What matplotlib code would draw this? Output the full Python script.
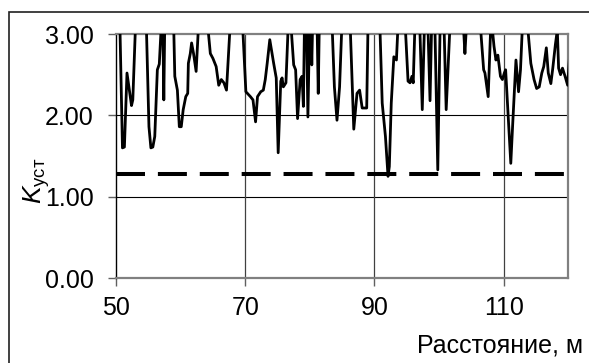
import matplotlib
matplotlib.use("Agg")
import matplotlib.pyplot as plt
from matplotlib.patches import Rectangle

plt.rcParams['font.family'] = ['Liberation Sans', 'DejaVu Sans']
plt.rcParams['mathtext.fontset'] = 'custom'
plt.rcParams['mathtext.rm'] = 'Liberation Sans'
plt.rcParams['mathtext.it'] = 'Liberation Sans:italic'

# расстояние, м
distance = [
    50.5, 51.0, 51.3, 51.7, 52.4, 52.6, 53.2, 54.0, 54.6, 55.1, 55.4, 55.7, 56.0,
    56.4, 56.7, 57.2, 57.4, 57.6, 58.5, 58.9, 59.1, 59.5, 59.8, 60.1, 60.4, 60.8,
    61.1, 61.2, 61.5, 61.7, 62.0, 62.4, 62.9, 63.5, 64.2, 64.6, 65.0, 65.5, 65.9,
    66.3, 66.7, 67.1, 67.8, 68.7, 69.6, 70.1, 70.8, 71.2, 71.6, 71.9, 72.4, 72.8,
    73.1, 73.4, 73.8, 74.4, 74.8, 75.1, 75.5, 75.7, 75.9, 76.3, 76.7, 77.0, 77.5,
    77.8, 78.1, 78.5, 78.8, 79.0, 79.2, 79.45, 79.7, 80.0, 80.15, 80.3, 80.5, 81.1,
    81.3, 81.5, 82.4, 83.4, 83.8, 84.2, 84.6, 85.0, 85.6, 86.2, 86.8, 87.3, 87.7,
    88.1, 88.8, 89.0, 90.0, 90.8, 91.2, 91.7, 92.1, 92.3, 92.6, 93.0, 93.4, 93.7,
    94.2, 94.7, 95.2, 95.5, 95.8, 96.0, 96.3, 96.9, 97.4, 97.8, 98.2, 98.6, 98.9,
    99.3, 99.8, 100.2, 100.7, 101.1, 101.8, 102.9, 103.8, 104.0, 104.2, 105.3,
    106.3, 106.9, 107.1, 107.6, 108.0, 108.2, 108.5, 108.8, 109.1, 109.5, 109.8,
    110.1, 110.3, 110.7, 111.1, 111.4, 111.9, 112.3, 112.6, 112.9, 113.3, 113.7,
    114.2, 114.7, 115.1, 115.5, 115.9, 116.2, 116.6, 116.9, 117.3, 117.6, 118.0,
    118.3, 118.5, 118.8, 119.1, 119.5, 119.9, 120.3,
]
# коэффициент устойчивости
k_ust = [
    3.50, 1.60, 1.61, 2.52, 2.12, 2.19, 3.50, 3.80, 3.40, 1.86, 1.60, 1.61, 1.74,
    2.56, 2.63, 3.40, 2.19, 3.50, 3.60, 3.20, 2.48, 2.31, 1.86, 1.86, 2.07, 2.23,
    2.27, 2.64, 2.76, 2.89, 2.76, 2.54, 3.30, 3.60, 3.10, 2.76, 2.70, 2.60, 2.37,
    2.44, 2.40, 2.31, 3.30, 3.60, 3.10, 2.29, 2.23, 2.19, 1.92, 2.23, 2.29, 2.31,
    2.44, 2.64, 2.93, 2.64, 2.46, 1.54, 2.42, 2.46, 2.35, 2.40, 3.20, 3.20, 2.62,
    2.56, 1.96, 2.44, 2.48, 2.11, 3.30, 3.30, 1.98, 3.30, 3.30, 2.62, 3.40, 3.20,
    2.27, 3.30, 3.60, 3.20, 2.35, 1.94, 2.35, 3.20, 3.60, 3.20, 1.83, 2.27, 2.31,
    2.09, 2.09, 3.10, 3.60, 3.20, 2.15, 1.74, 1.25, 1.37, 2.15, 2.72, 2.68, 3.20,
    3.60, 3.20, 2.42, 2.40, 2.48, 2.40, 3.20, 3.40, 2.07, 3.30, 3.30, 2.18, 3.30,
    3.30, 1.33, 3.30, 3.30, 2.07, 3.30, 3.60, 3.05, 2.76, 3.05, 3.60, 3.20, 2.56,
    2.52, 2.23, 3.10, 3.10, 2.85, 2.68, 2.74, 2.48, 2.44, 2.52, 2.56, 1.98, 1.41,
    1.90, 2.68, 2.29, 2.56, 3.10, 3.50, 3.10, 2.64, 2.44, 2.33, 2.35, 2.52, 2.60,
    2.83, 2.52, 2.39, 2.58, 2.87, 3.05, 2.58, 2.50, 2.58, 2.48, 2.37, 2.85,
]
k_norm = 1.28

x_ticks = [50, 70, 90, 110]
y_ticks = [0.0, 1.0, 2.0, 3.0]

fig = plt.figure(figsize=(5.89, 3.63), dpi=100)
ax = fig.add_axes([116 / 589, 1 - 278 / 363, 452.3 / 589, 244 / 363])

ax.plot(distance, k_ust, color='black', lw=2.0, zorder=3)
ax.axhline(k_norm, color='black', lw=2.9, dashes=(7.2, 3.2), dash_capstyle='butt', zorder=4)

ax.set_xlim(50, 120)
ax.set_ylim(0, 3)
ax.set_xticks(x_ticks)
ax.set_yticks(y_ticks)
ax.set_yticklabels([f'{v:.2f}' for v in y_ticks])
ax.tick_params(labelsize=18, length=6, width=1, color='#606060')
ax.tick_params(axis='y', pad=10)
ax.tick_params(axis='x', pad=7)

for v in [1.0, 2.0]:
    ax.axhline(v, color='black', lw=0.8, zorder=1)
for v in [70, 90, 110]:
    ax.axvline(v, color='#404040', lw=0.9, zorder=1)

for side in ['top', 'right', 'bottom']:
    ax.spines[side].set_color('#808080')
    ax.spines[side].set_linewidth(1.6)
ax.spines['left'].set_color('black')
ax.spines['left'].set_linewidth(1.0)

ax.set_ylabel(r'$K_{\mathrm{уст}}$', fontsize=19, va='center')
ax.yaxis.set_label_coords(-0.176, 0.40)
ax.set_xlabel('Расстояние, м', fontsize=18, ha='right', va='center')
ax.xaxis.set_label_coords(1.032, -0.275)

# внешняя рамка
fig.patches.append(Rectangle((9 / 589, -0.2), 1.2, 1 - 12 / 363 + 0.2,
                             transform=fig.transFigure, fill=False,
                             edgecolor='#202020', lw=1.2))

fig.savefig('out.png', dpi=100)
